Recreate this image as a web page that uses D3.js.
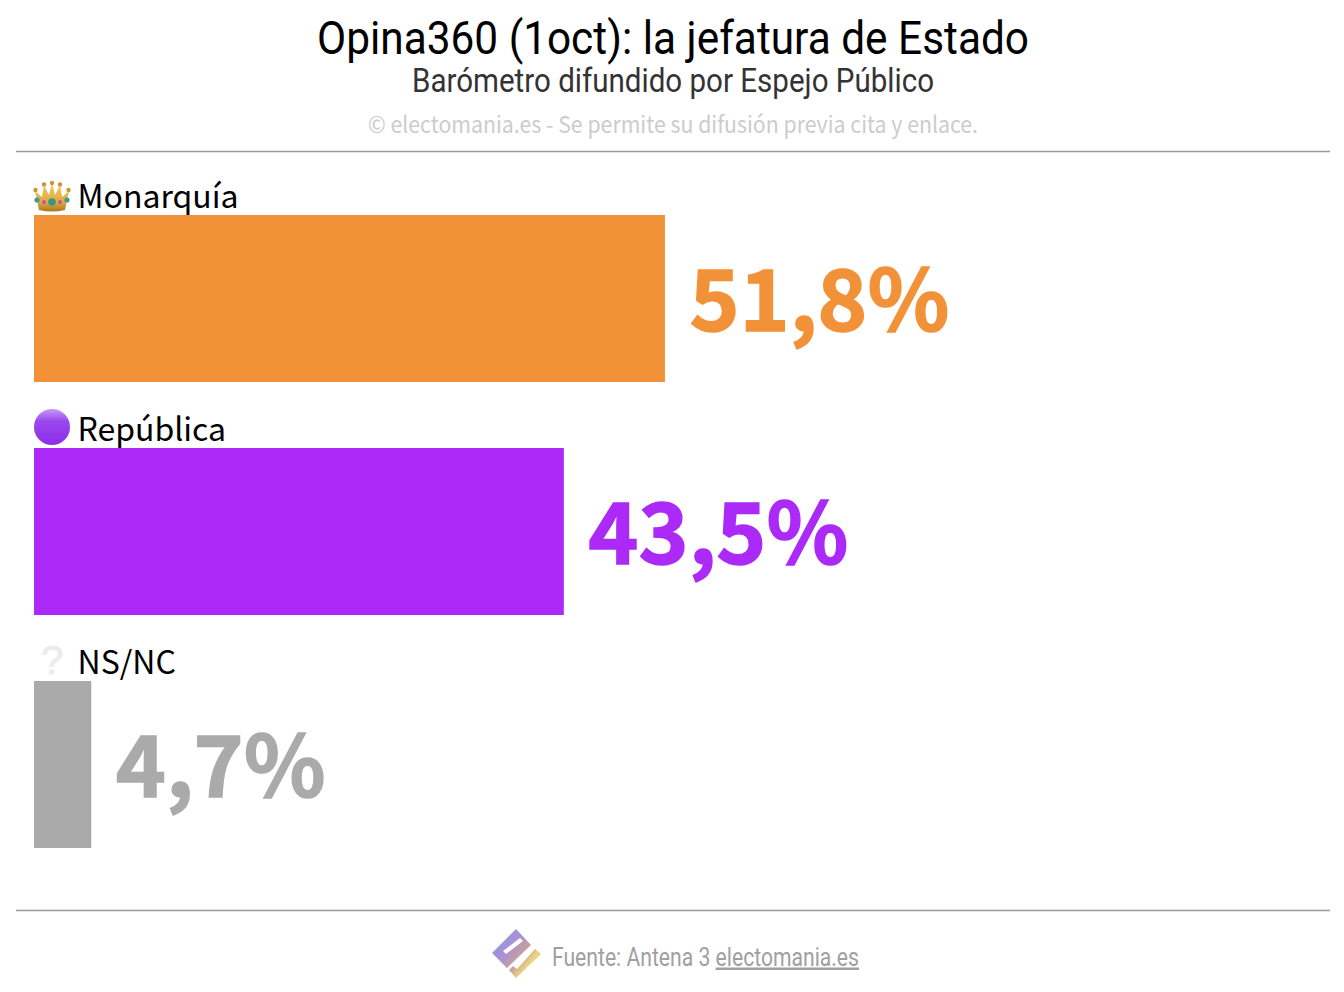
<!DOCTYPE html>
<html>
<head>
<meta charset="utf-8">
<script src="https://cdn.jsdelivr.net/npm/d3@7"></script>
<style>
  html, body { margin: 0; padding: 0; background: #fff; }
  svg { display: block; }
</style>
</head>
<body>
<div id="chart"></div>
<script>
const categories = ["Monarquía", "República", "NS/NC"];
const values = [51.8, 43.5, 4.7];
const valueLabels = ["51,8%", "43,5%", "4,7%"];
const colors = ["#f29238", "#ab2af7", "#aaaaaa"];
const icons = ["crown", "circle", "question"];

const w = 1344, h = 992;
const svg = d3.select("#chart").append("svg").attr("width", w).attr("height", h);
const defs = svg.append("defs");

const x = d3.scaleLinear().domain([0, 100]).range([34, 1252]);
const y = d3.scaleBand().domain(categories).range([215, 848]).paddingInner(66 / 233).paddingOuter(0).align(0);

const sans = "'Noto Sans CJK SC', 'Source Sans Pro', sans-serif";
const cond = "Roboto, sans-serif";

// condensed text: Roboto squeezed to the measured width
function squeezed(text, cx, base, size, width, fill) {
  return svg.append("text")
    .attr("x", cx).attr("y", base)
    .attr("text-anchor", "middle")
    .attr("font-family", cond).attr("font-size", size).attr("fill", fill)
    .attr("textLength", width).attr("lengthAdjust", "spacingAndGlyphs")
    .text(text);
}

// header
squeezed("Opina360 (1oct): la jefatura de Estado", 673, 54, 47, 712, "#000");
squeezed("Barómetro difundido por Espejo Público", 673, 92, 33.5, 522, "#333");
svg.append("text").attr("x", 673).attr("y", 132.5)
  .attr("text-anchor", "middle").attr("font-family", sans).attr("font-size", 23)
  .attr("fill", "#cccccc").attr("textLength", 610).attr("lengthAdjust", "spacingAndGlyphs")
  .text("© electomania.es - Se permite su difusión previa cita y enlace.");

// rules
[151.5, 910.5].forEach(ry => {
  svg.append("line").attr("x1", 16).attr("x2", 1330).attr("y1", ry).attr("y2", ry)
    .attr("stroke", "#999").attr("stroke-width", 1.5);
});

// bars
svg.selectAll("rect.bar").data(categories).enter().append("rect")
  .attr("class", "bar")
  .attr("x", x(0))
  .attr("y", d => y(d))
  .attr("width", (d, i) => x(values[i]) - x(0))
  .attr("height", y.bandwidth())
  .attr("fill", (d, i) => colors[i]);

// category labels
svg.selectAll("text.cat").data(categories).enter().append("text")
  .attr("class", "cat")
  .attr("x", 77.5)
  .attr("y", d => y(d) - 7.5)
  .attr("font-family", sans).attr("font-size", 32).attr("fill", "#000")
  .text(d => d);

// value labels, a thin stroke makes the weight heavier like the original
svg.selectAll("text.val").data(categories).enter().append("text")
  .attr("class", "val")
  .attr("x", (d, i) => x(values[i]) + 24.5)
  .attr("y", d => y(d) + 115.5)
  .attr("font-family", sans).attr("font-weight", 700).attr("font-size", 85)
  .attr("fill", (d, i) => colors[i])
  .attr("stroke", (d, i) => colors[i]).attr("stroke-width", 1.4)
  .text((d, i) => valueLabels[i]);

// icons, drawn as shapes because the emoji font is not there
const crownGrad = defs.append("linearGradient").attr("id", "crownGrad").attr("x1", 0).attr("x2", 0).attr("y1", 0).attr("y2", 1);
crownGrad.append("stop").attr("offset", 0).attr("stop-color", "#f3cf6a");
crownGrad.append("stop").attr("offset", 0.7).attr("stop-color", "#e0a93e");
crownGrad.append("stop").attr("offset", 1).attr("stop-color", "#a9761f");
const ballGrad = defs.append("linearGradient").attr("id", "ballGrad").attr("x1", 0).attr("x2", 0).attr("y1", 0).attr("y2", 1);
ballGrad.append("stop").attr("offset", 0).attr("stop-color", "#c79af5");
ballGrad.append("stop").attr("offset", 0.35).attr("stop-color", "#9a45ee");
ballGrad.append("stop").attr("offset", 1).attr("stop-color", "#8d2fe8");

categories.forEach((c, i) => {
  const g = svg.append("g").attr("transform", `translate(34,${y(c) - 34})`);
  if (icons[i] === "crown") {
    g.append("path").attr("fill", "url(#crownGrad)")
      .attr("d", "M5 29 L1 10 L8 16 L10 4 L15 14 L18 1 L21 14 L26 4 L28 16 L35 10 L31 29 Q18 32 5 29 Z");
    [[1.5, 9], [10, 3.5], [18, 2], [26, 3.5], [34.5, 9]].forEach(p =>
      g.append("circle").attr("cx", p[0]).attr("cy", p[1]).attr("r", 2.2).attr("fill", "#c9973a"));
    [[3, 19, "#3d9c8c", 2.6], [10, 21, "#c34fb0", 2], [18, 21, "#2f9a7f", 3.8], [26, 21, "#c34fb0", 2], [33, 19, "#3d9c8c", 2.6]].forEach(p =>
      g.append("circle").attr("cx", p[0]).attr("cy", p[1]).attr("r", p[3]).attr("fill", p[2]));
  } else if (icons[i] === "circle") {
    g.append("circle").attr("cx", 18).attr("cy", 13).attr("r", 18).attr("fill", "url(#ballGrad)");
  } else {
    g.append("text").attr("x", 18).attr("y", 27)
      .attr("text-anchor", "middle").attr("font-family", "'Liberation Sans', sans-serif")
      .attr("font-size", 40).attr("stroke", "#ececec").attr("stroke-width", 1)
      .attr("fill", "#ececec").text("?");
  }
});

// footer logo
const logoGrad = defs.append("linearGradient").attr("id", "logoGrad").attr("gradientUnits", "userSpaceOnUse")
  .attr("x1", 492).attr("y1", 940).attr("x2", 535).attr("y2", 975);
logoGrad.append("stop").attr("offset", 0).attr("stop-color", "#7fa0d8");
logoGrad.append("stop").attr("offset", 0.3).attr("stop-color", "#a98fd8");
logoGrad.append("stop").attr("offset", 0.6).attr("stop-color", "#c9a09a");
logoGrad.append("stop").attr("offset", 0.8).attr("stop-color", "#ecd87f");
logoGrad.append("stop").attr("offset", 1).attr("stop-color", "#e88f70");
const logo = svg.append("g");
logo.append("path").attr("fill", "url(#logoGrad)").attr("fill-rule", "evenodd")
  .attr("d", "M516 929 L531 945 L507 968 L492 953 Z M520 938 L503 951 L506 954 L523 941 Z");
logo.append("path").attr("fill", "url(#logoGrad)")
  .attr("d", "M535 949 L541 954 L516 978 L509 970 L513 966 L517 969 Z");

// footer text
const foot = svg.append("text").attr("x", 552).attr("y", 965.5)
  .attr("font-family", cond).attr("font-size", 25).attr("fill", "#a0a0a0")
  .attr("textLength", 307).attr("lengthAdjust", "spacingAndGlyphs");
foot.append("tspan").text("Fuente: Antena 3 ");
foot.append("tspan").attr("text-decoration", "underline").text("electomania.es");
</script>
</body>
</html>
